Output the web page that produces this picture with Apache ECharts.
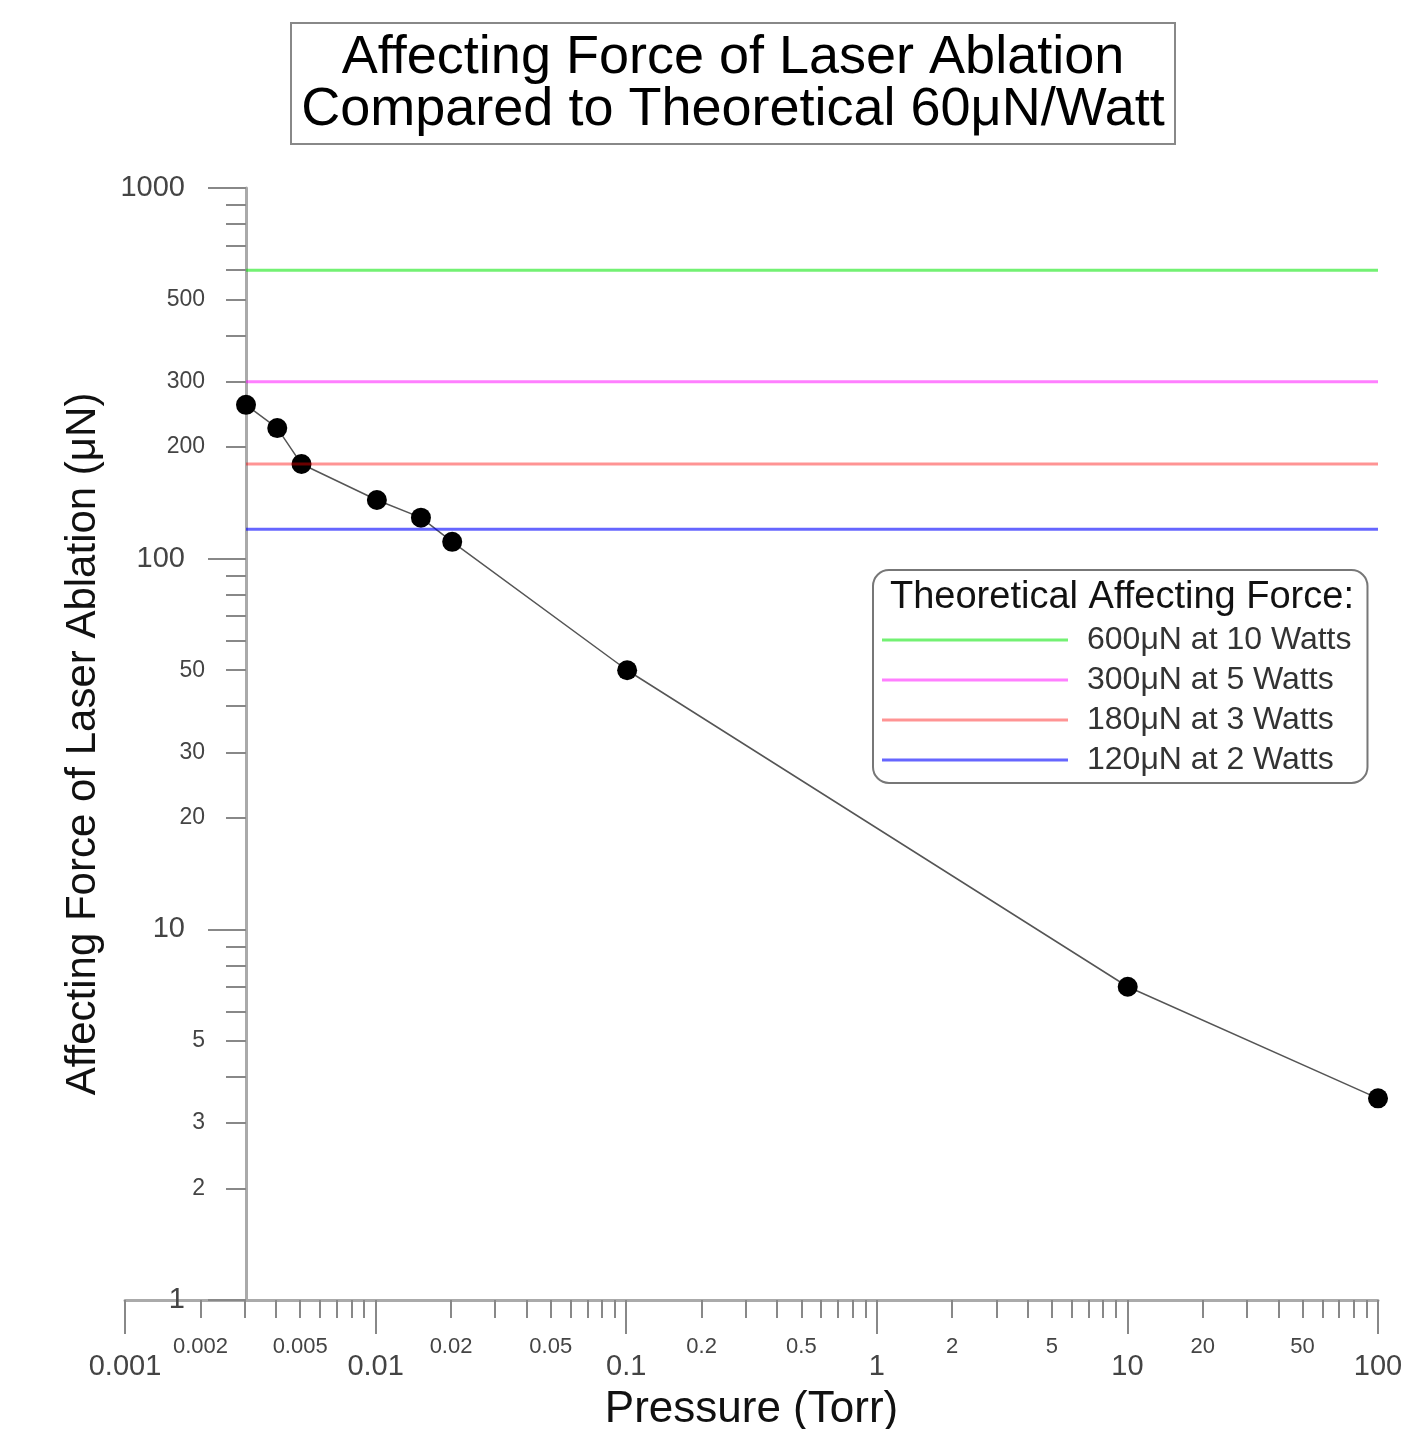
<!DOCTYPE html>
<html>
<head>
<meta charset="utf-8">
<script src="https://cdn.jsdelivr.net/npm/echarts@6/dist/echarts.min.js"></script>
<style>
  html, body { margin: 0; padding: 0; background: #fff; }
  #chart { width: 1402px; height: 1429px; }
</style>
</head>
<body>
<div id="chart"></div>
<script>
// Laser ablation force vs. pressure, log-log, with theoretical force levels.
const FONT = "Liberation Sans, Arial, sans-serif";

const pressure = [0.003, 0.004, 0.005, 0.01, 0.015, 0.02, 0.1, 10, 100];
const force = [260, 225, 180, 144, 129, 111, 50, 7, 3.5];

const levelNames = ["600μN at 10 Watts", "300μN at 5 Watts", "180μN at 3 Watts", "120μN at 2 Watts"];
const levelValues = [600, 300, 180, 120];
const levelColors = ["rgba(0,230,0,0.55)", "rgba(255,0,255,0.5)", "rgba(255,0,0,0.42)", "rgba(0,0,255,0.6)"];
const levelFrom = 0.003, levelTo = 100;

// tick values / labels
const xMajorTicks = [0.001, 0.01, 0.1, 1, 10, 100];
const xMinorTicks = [0.002, 0.003, 0.004, 0.005, 0.006, 0.007, 0.008, 0.009,
  0.02, 0.03, 0.04, 0.05, 0.06, 0.07, 0.08, 0.09,
  0.2, 0.3, 0.4, 0.5, 0.6, 0.7, 0.8, 0.9,
  2, 3, 4, 5, 6, 7, 8, 9,
  20, 30, 40, 50, 60, 70, 80, 90];
const xMinorLabels = [0.002, 0.005, 0.02, 0.05, 0.2, 0.5, 2, 5, 20, 50];
const yMajorTicks = [1, 10, 100, 1000];
const yMinorTicks = [2, 3, 4, 5, 6, 7, 8, 9, 20, 30, 40, 50, 60, 70, 80, 90,
  200, 300, 400, 500, 600, 700, 800, 900];
const yMinorLabels = [2, 3, 5, 20, 30, 50, 200, 300, 500];

const chart = echarts.init(document.getElementById("chart"));

const axisGray = "#aaa", tickGray = "#888", labelGray = "#444";
const fmt = (v) => String(v);

// theoretical levels: drawn on top of the data, semi-transparent like the original
const levelSeries = levelNames.map((name, i) => ({
  name, type: "line", xAxisIndex: 0, yAxisIndex: 0, z: 5,
  data: [[levelFrom, levelValues[i]], [levelTo, levelValues[i]]],
  symbol: "none", color: levelColors[i],
  lineStyle: { color: levelColors[i], width: 3 }, silent: true,
}));

chart.setOption({
  animation: false,
  textStyle: { fontFamily: FONT },
  title: [
    { text: "Affecting Force of Laser Ablation\nCompared to Theoretical 60μN/Watt",
      left: 722, top: 24, textAlign: "center",
      borderColor: "#888", borderWidth: 2, padding: [8, 11, 7, 11],
      textStyle: { fontSize: 54, lineHeight: 52, fontWeight: "normal", color: "#000", fontFamily: FONT } },
    { text: "Theoretical Affecting Force:", left: 890, top: 579, padding: 0,
      textStyle: { fontSize: 38, fontWeight: "normal", color: "#111", fontFamily: FONT } },
  ],
  legend: {
    data: levelNames, orient: "vertical", left: 873, top: 570,
    icon: "rect", itemWidth: 186, itemHeight: 3, itemGap: 0,
    padding: [50, 16, 3, 9], selectedMode: false,
    borderColor: "#777", borderWidth: 2, borderRadius: 16,
    textStyle: { fontSize: 32, lineHeight: 40, color: "#333", padding: [0, 0, 0, 14], fontFamily: FONT },
  },
  grid: [
    { left: 246, right: 24, top: 188, bottom: 129, outerBoundsMode: "none" },
    { left: 125, right: 24, top: 188, bottom: 129, outerBoundsMode: "none" },
  ],
  xAxis: [
    { type: "log", gridIndex: 0, min: 0.003, max: 100, show: false },
    { type: "log", gridIndex: 1, min: 0.001, max: 100, position: "bottom",
      name: "Pressure (Torr)", nameLocation: "middle", nameGap: 88,
      nameTextStyle: { fontSize: 44, color: "#111", fontFamily: FONT },
      axisLine: { lineStyle: { color: axisGray, width: 3 } },
      axisTick: { customValues: xMajorTicks, length: 34, lineStyle: { color: tickGray, width: 2 } },
      axisLabel: { customValues: xMajorTicks, formatter: fmt, margin: 52, fontSize: 29, color: labelGray },
      splitLine: { show: false } },
    { type: "log", gridIndex: 1, min: 0.001, max: 100, position: "bottom",
      axisLine: { show: false },
      axisTick: { customValues: xMinorTicks, length: 18, lineStyle: { color: tickGray, width: 2 } },
      axisLabel: { customValues: xMinorLabels, formatter: fmt, margin: 36, fontSize: 22, color: labelGray },
      splitLine: { show: false } },
  ],
  yAxis: [
    { type: "log", gridIndex: 0, min: 1, max: 1000, position: "left",
      name: "Affecting Force of Laser Ablation (μN)", nameLocation: "middle", nameGap: 142,
      nameTextStyle: { fontSize: 42, color: "#111", fontFamily: FONT },
      axisLine: { show: true, lineStyle: { color: axisGray, width: 3 } },
      axisTick: { show: true, customValues: yMajorTicks, length: 38, lineStyle: { color: tickGray, width: 2 } },
      axisLabel: { customValues: yMajorTicks, formatter: fmt, margin: 61, fontSize: 29, color: labelGray },
      splitLine: { show: false } },
    { type: "log", gridIndex: 1, min: 1, max: 1000, show: false },
    { type: "log", gridIndex: 0, min: 1, max: 1000, position: "left",
      axisLine: { show: false },
      axisTick: { show: true, customValues: yMinorTicks, length: 20, lineStyle: { color: tickGray, width: 2 } },
      axisLabel: { customValues: yMinorLabels, formatter: fmt, margin: 41, fontSize: 23, color: labelGray },
      splitLine: { show: false } },
  ],
  series: [
    { name: "Measured", type: "line", xAxisIndex: 0, yAxisIndex: 0, z: 3, clip: false,
      data: pressure.map((p, i) => [p, force[i]]),
      symbol: "circle", symbolSize: 20,
      itemStyle: { color: "#000" },
      lineStyle: { color: "#555", width: 1.5 } },
    ...levelSeries,
  ],
});
</script>
</body>
</html>
